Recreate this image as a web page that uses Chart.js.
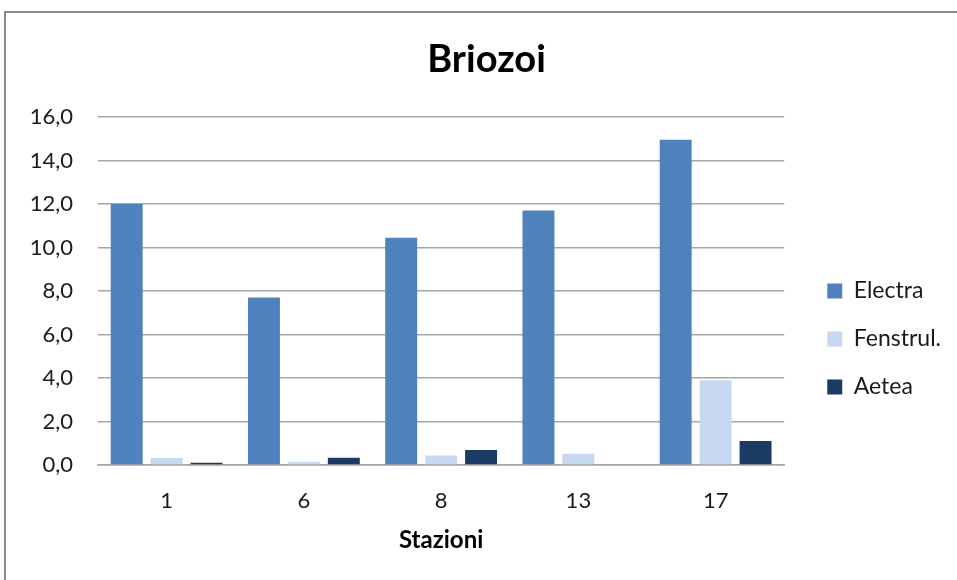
<!DOCTYPE html>
<html>
<head>
<meta charset="utf-8">
<script src="https://cdn.jsdelivr.net/npm/chart.js@4.4.1/dist/chart.umd.min.js"></script>
<style>
  html, body { margin: 0; padding: 0; background: #ffffff; }
  body { width: 957px; height: 580px; overflow: hidden; position: relative; }
  #frame { position: absolute; left: 4px; top: 11px; width: 1000px; height: 700px; border: 2px solid #8a8a8a; box-sizing: border-box; }
  #wrap { position: absolute; left: 0; top: 0; width: 957px; height: 580px; }
</style>
</head>
<body>
<div id="frame"></div>
<div id="wrap"><canvas id="c" width="957" height="580"></canvas></div>
<script>
const stations = ['1', '6', '8', '13', '17'];
const electra = [12.0, 7.7, 10.45, 11.7, 14.95];
const fenstrul = [0.32, 0.15, 0.44, 0.52, 3.9];
const aetea = [0.1, 0.33, 0.69, 0.0, 1.1];
const seriesNames = ['Electra', 'Fenstrul.', 'Aetea'];
const chartTitle = 'Briozoi';
const xTitle = 'Stazioni';

const FONT = "Lato, 'Liberation Sans', sans-serif";

new Chart(document.getElementById('c'), {
  type: 'bar',
  data: {
    labels: stations,
    datasets: [
      { label: seriesNames[0], data: electra, backgroundColor: '#4F81BD' },
      { label: seriesNames[1], data: fenstrul, backgroundColor: '#C6D9F1' },
      { label: seriesNames[2], data: aetea, backgroundColor: '#1B3A64' }
    ]
  },
  options: {
    responsive: false,
    animation: false,
    devicePixelRatio: 1,
    layout: { padding: { left: 22, right: 6, top: 0, bottom: 0 } },
    datasets: { bar: { categoryPercentage: 0.873, barPercentage: 0.8 } },
    plugins: {
      title: {
        display: true,
        text: chartTitle,
        color: '#000',
        font: { family: FONT, size: 38, weight: 'bold', lineHeight: 1.2 },
        padding: { top: 37, bottom: 34.4 }
      },
      legend: {
        position: 'right',
        align: 'center',
        title: { display: true, text: ' ', font: { size: 12, lineHeight: 1.2 }, padding: { top: 83.6, bottom: 0 } },
        labels: {
          font: { family: FONT, size: 23 },
          color: '#1a1a1a',
          boxWidth: 15,
          boxHeight: 15,
          padding: 25
        }
      },
      tooltip: { enabled: false }
    },
    scales: {
      x: {
        grid: { display: false, drawTicks: false },
        border: { display: true, color: '#a6a6a6', width: 1.5 },
        ticks: { font: { family: FONT, size: 22 }, color: '#1a1a1a', padding: 22.4 },
        title: {
          display: true,
          text: xTitle,
          color: '#000',
          font: { family: FONT, size: 24, weight: 'bold', lineHeight: 1.2 },
          padding: { top: 10, bottom: 25 }
        },
        afterFit: (s) => { s.height = 115; }
      },
      y: {
        min: 0,
        max: 16,
        grid: { color: '#a6a6a6', lineWidth: 1.5, drawTicks: false },
        border: { display: false },
        ticks: {
          stepSize: 2,
          font: { family: FONT, size: 22 },
          color: '#1a1a1a',
          padding: 25,
          callback: (v) => v.toFixed(1).replace('.', ',')
        },
        afterFit: (s) => { s.width = 76; }
      },
      y2: {
        position: 'right',
        display: true,
        grid: { display: false, drawTicks: false },
        border: { display: false },
        ticks: { display: false },
        afterFit: (s) => { s.width = 18; }
      }
    }
  }
});
</script>
</body>
</html>
